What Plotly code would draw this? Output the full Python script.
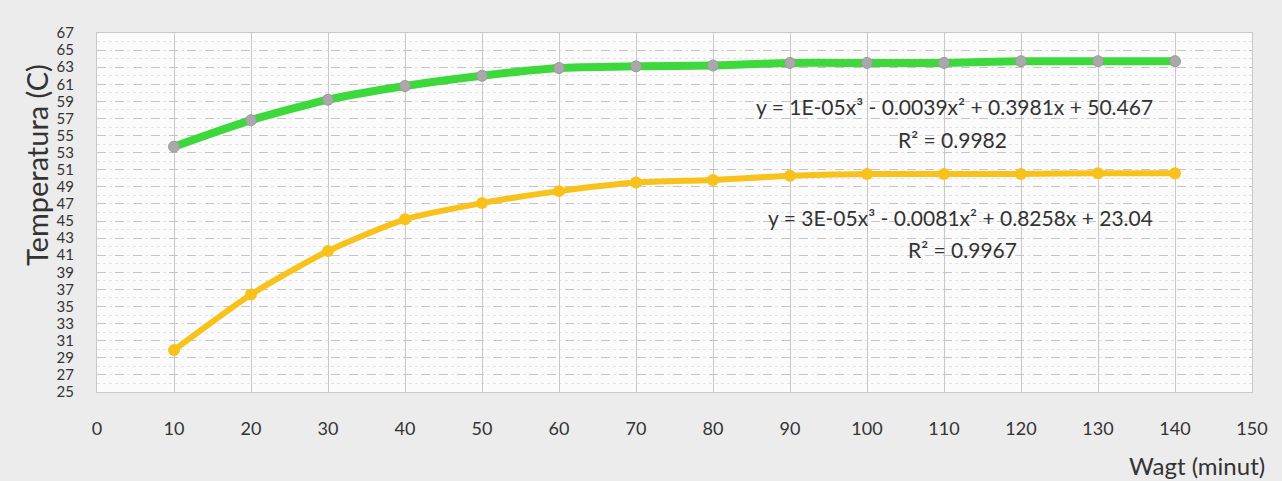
import plotly.graph_objects as go

time_min = [10, 20, 30, 40, 50, 60, 70, 80, 90, 100, 110, 120, 130, 140]
temp_green = [53.7, 56.8, 59.2, 60.8, 62.0, 62.9, 63.1, 63.2, 63.5, 63.5, 63.5, 63.7, 63.7, 63.7]
temp_yellow = [29.9, 36.4, 41.5, 45.2, 47.1, 48.5, 49.5, 49.8, 50.3, 50.5, 50.5, 50.5, 50.6, 50.6]
x_ticks = list(range(0, 151, 10))
y_ticks = list(range(25, 68, 2))
eq_green = "y = 1E-05x³ - 0.0039x² + 0.3981x + 50.467"
r2_green = "R² = 0.9982"
eq_yellow = "y = 3E-05x³ - 0.0081x² + 0.8258x + 23.04"
r2_yellow = "R² = 0.9967"

FONT = "Lato"
W, H = 1282, 481
L, R, T, B = 97, 30, 33, 89
PW, PH = W - L - R, H - T - B

fig = go.Figure()
fig.add_trace(go.Scatter(
    x=time_min, y=temp_green, mode="lines+markers",
    line=dict(color="#3cd83c", width=8, shape="spline", smoothing=0.6),
    marker=dict(color="#a9a9a9", size=11, line=dict(color="#999999", width=1)),
    showlegend=False))
fig.add_trace(go.Scatter(
    x=time_min, y=temp_yellow, mode="lines+markers",
    line=dict(color="#f7c21b", width=6, shape="spline", smoothing=0.6),
    marker=dict(color="#f7c21b", size=12),
    showlegend=False))

ann_font = dict(family=FONT, size=21, color="#333333")
for x, y, t in [(111.3, 58.35, eq_green), (111.1, 54.5, r2_green),
                (112.2, 45.36, eq_yellow), (112.4, 41.7, r2_yellow)]:
    fig.add_annotation(x=x, y=y, xref="x", yref="y", text=t, showarrow=False,
                       font=ann_font)

fig.add_annotation(x=(1197 - L) / PW, y=-(465 - (H - B)) / PH,
                   xref="paper", yref="paper", text="Wagt (minut)",
                   xanchor="center", yanchor="middle", showarrow=False,
                   font=dict(family=FONT, size=24, color="#333333"))
fig.add_annotation(x=-(L - 36) / PW, y=((H - B) - 165) / PH,
                   xref="paper", yref="paper", text="Temperatura (C)", textangle=-90,
                   showarrow=False, xanchor="center", yanchor="middle",
                   font=dict(family=FONT, size=29, color="#333333"))

fig.update_layout(
    width=W, height=H,
    margin=dict(l=L, r=R, t=T, b=B),
    paper_bgcolor="#ececec", plot_bgcolor="#fbfbfb",
    font=dict(family=FONT, color="#333333"),
    xaxis=dict(range=[0, 150], tickvals=x_ticks, showgrid=True, gridcolor="#c8c8c8",
               gridwidth=1, zeroline=False, showline=True, linecolor="#c8c8c8",
               tickfont=dict(size=18, color="#333333"), ticklabelstandoff=20, mirror=True),
    yaxis=dict(range=[25, 67], tickvals=y_ticks, showgrid=True, gridcolor="#c4c4c4",
               griddash="dash", gridwidth=1, zeroline=False, showline=True, linecolor="#c8c8c8",
               mirror=True,
               tickfont=dict(size=15, color="#333333"), ticklabelstandoff=19,
               minor=dict(dtick=1, showgrid=True, gridcolor="#e2e2e2", griddash="dot")),
)

fig.write_html("out.html", config={"displayModeBar": False},
               post_script="document.body.style.margin='0';")
